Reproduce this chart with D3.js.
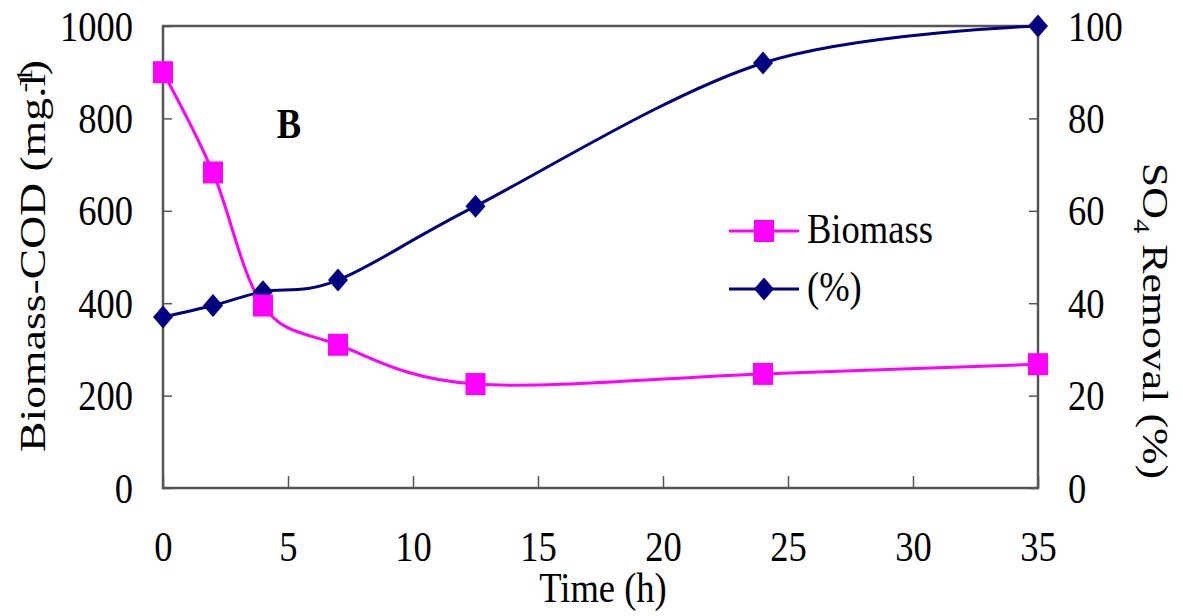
<!DOCTYPE html>
<html><head><meta charset="utf-8">
<script src="https://cdn.jsdelivr.net/npm/d3@7"></script>
<style>body{margin:0;background:#fff}text{font-family:"Times New Roman","Liberation Serif",Tinos,serif;fill:#000}</style>
</head><body>
<svg id="c" width="1183" height="616"></svg>
<script>
const timeH = [0, 2, 4, 7, 12.5, 24, 35];
const biomass = [900, 683, 395, 310, 225, 247, 268];
const removal = [37, 39.5, 42.5, 45, 61, 92, 100];
const xTicks = [0, 5, 10, 15, 20, 25, 30, 35];
const yLeftTicks = [0, 200, 400, 600, 800, 1000];
const yRightTicks = [0, 20, 40, 60, 80, 100];

const svg = d3.select("#c");
const L = 163, R = 1038, T = 26, B = 488;
const x = d3.scaleLinear().domain([0, 35]).range([L, R]);
const yL = d3.scaleLinear().domain([0, 1000]).range([B, T]);
const yR = d3.scaleLinear().domain([0, 100]).range([B, T]);
const axisColor = "#555";
const FS = 43, SX = 0.85;

// frame
svg.append("rect").attr("x", L).attr("y", T).attr("width", R - L).attr("height", B - T)
  .attr("fill", "none").attr("stroke", axisColor).attr("stroke-width", 2.5);

function styleAxis(g, anchor, tx) {
  g.select(".domain").remove();
  g.selectAll(".tick line").attr("stroke", axisColor).attr("stroke-width", 1.5);
  g.selectAll(".tick text").style("font-size", FS + "px").attr("fill", "#000")
    .attr("x", null).attr("dy", null)
    .attr("text-anchor", anchor)
    .attr("transform", tx);
}
svg.append("g").attr("transform", `translate(0,${B})`)
  .call(d3.axisBottom(x).tickValues(xTicks).tickSize(-12).tickFormat(d3.format("d")))
  .call(g => styleAxis(g, "middle", `translate(0,73) scale(${SX},1)`))
  .selectAll(".tick text").attr("y", 0);
svg.append("g").attr("transform", `translate(${L},0)`)
  .call(d3.axisLeft(yL).tickValues(yLeftTicks).tickSize(-9).tickFormat(d3.format("d")))
  .call(g => styleAxis(g, "end", `translate(-30,14) scale(${SX},1)`))
  .selectAll(".tick text").attr("y", 0);
svg.append("g").attr("transform", `translate(${R},0)`)
  .call(d3.axisRight(yR).tickValues(yRightTicks).tickSize(-9).tickFormat(d3.format("d")))
  .call(g => styleAxis(g, "start", `translate(30,14) scale(${SX},1)`))
  .selectAll(".tick text").attr("y", 0);

// lines
const curve = d3.curveCardinal.tension(0);
const lineB = d3.line().x((d, i) => x(timeH[i])).y(d => yL(d)).curve(curve);
const lineR = d3.line().x((d, i) => x(timeH[i])).y(d => yR(d)).curve(curve);
svg.append("path").attr("d", lineR(removal)).attr("fill", "none").attr("stroke", "#000080").attr("stroke-width", 3);
svg.append("path").attr("d", lineB(biomass)).attr("fill", "none").attr("stroke", "#FF00FF").attr("stroke-width", 3);

const sqW = 20, sqH = 22, dmX = 10, dmY = 11.5;
function diamond(g, cx, cy) {
  g.append("path").attr("d", `M${cx},${cy - dmY}L${cx + dmX},${cy}L${cx},${cy + dmY}L${cx - dmX},${cy}Z`).attr("fill", "#000080");
}
removal.forEach((v, i) => diamond(svg, x(timeH[i]), yR(v)));
svg.selectAll("rect.bm").data(biomass).enter().append("rect").attr("class", "bm")
  .attr("x", (d, i) => x(timeH[i]) - sqW / 2).attr("y", d => yL(d) - sqH / 2)
  .attr("width", sqW).attr("height", sqH).attr("fill", "#FF00FF");

function htext(px, py, str, opts = {}) {
  const t = svg.append("text").attr("transform", `translate(${px},${py}) scale(${SX},1)`)
    .attr("text-anchor", opts.anchor || "start").style("font-size", FS + "px").text(str);
  if (opts.bold) t.style("font-weight", "bold");
  return t;
}

// legend
const lg = svg.append("g");
lg.append("line").attr("x1", 729).attr("x2", 799).attr("y1", 231).attr("y2", 231).attr("stroke", "#FF00FF").attr("stroke-width", 3);
lg.append("rect").attr("x", 764 - sqW / 2).attr("y", 231 - sqH / 2).attr("width", sqW).attr("height", sqH).attr("fill", "#FF00FF");
htext(807, 243, "Biomass");
lg.append("line").attr("x1", 729).attr("x2", 799).attr("y1", 289).attr("y2", 289).attr("stroke", "#000080").attr("stroke-width", 3);
diamond(lg, 764, 289);
htext(807, 301, "(%)");

// B
htext(289, 138, "B", { anchor: "middle", bold: true });

// x title
htext(603, 602, "Time (h)", { anchor: "middle" });

// y titles (rotated; stretched along text direction)
const FR = FS * SX;
const yl = svg.append("text").attr("transform", `translate(45,256) rotate(-90) scale(1.25,1)`)
  .attr("text-anchor", "middle").style("font-size", FR + "px");
yl.append("tspan").text("Biomass-COD (mg.l");
yl.append("tspan").attr("dy", -13).attr("dx", -15).style("font-size", (FR * 0.65) + "px").text("-1");
yl.append("tspan").attr("dy", 13).attr("dx", -6).text(")");

const yr = svg.append("text").attr("transform", `translate(1143,321) rotate(90) scale(1.2,1)`)
  .attr("text-anchor", "middle").style("font-size", FR + "px");
yr.append("tspan").text("SO");
yr.append("tspan").attr("dy", 9).style("font-size", (FR * 0.65) + "px").text("4");
yr.append("tspan").attr("dy", -9).text(" Removal (%)");
</script>
</body></html>
